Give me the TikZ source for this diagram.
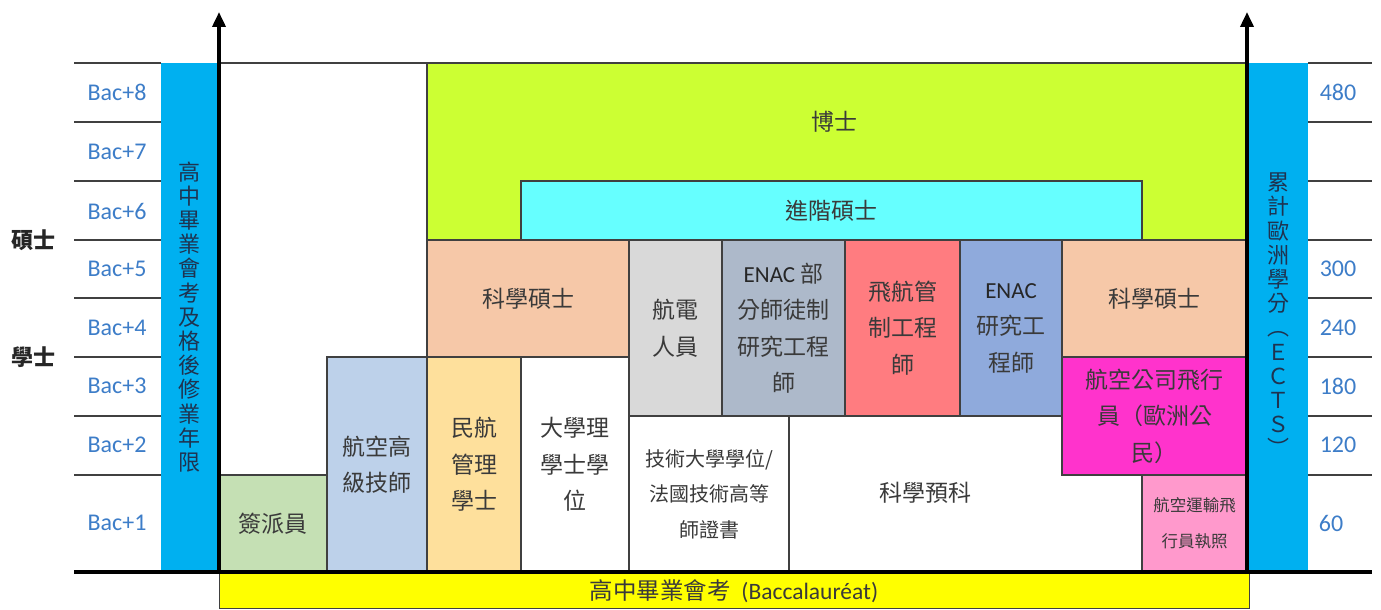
\documentclass[tikz,border=0pt]{standalone}
\usepackage{fontspec}
\setmainfont{Carlito}
\newfontfamily\cjk{Noto Sans CJK TC}
\newfontfamily\latin{Carlito}
\usetikzlibrary{arrows.meta}
\definecolor{edge}{HTML}{404040}
\definecolor{txt}{HTML}{3A3A3A}
\definecolor{bacblue}{HTML}{3D7DC8}
\definecolor{barblue}{HTML}{00B0F0}
\definecolor{bartxt}{HTML}{1F3350}
\definecolor{cPhD}{HTML}{CCFF33}
\definecolor{cCyan}{HTML}{66FFFF}
\definecolor{cSalmon}{HTML}{F6C8A8}
\definecolor{cOrange}{HTML}{FEE09C}
\definecolor{cLightBlue}{HTML}{BDD1EA}
\definecolor{cGreen}{HTML}{C5E0B4}
\definecolor{cGray}{HTML}{D9D9D9}
\definecolor{cGrayBlue}{HTML}{ADB9CA}
\definecolor{cRed}{HTML}{FF7C80}
\definecolor{cBlue}{HTML}{8FAADC}
\definecolor{cMagenta}{HTML}{FF33CC}
\definecolor{cPink}{HTML}{FF99CC}
\definecolor{cYellow}{HTML}{FFFF00}
\newcommand\cell[7][]{\node[cellbox, fill=#6, minimum width={(#4-#2)*1pt}, minimum height={(#5-#3)*1pt},#1] (c#2-#3) at ({(#2+#4)/2},{(#3+#5)/2}) {#7};}
\begin{document}
\begin{tikzpicture}[x=1pt,y=-1pt,
  cellbox/.style={draw=edge, line width=1.1pt, rectangle, inner sep=0pt, outer sep=0pt, text=txt, align=center, font=\cjk\fontsize{23}{36.5}\selectfont},
  grid/.style={draw=edge, line width=1.1pt},
  bac/.style={text=bacblue, font=\latin\fontsize{24}{28}\selectfont},
  vtext/.style={text=bartxt, align=center, font=\cjk\fontsize{22}{24.2}\selectfont},
  axis/.style={line width=3.6pt, -{Triangle[width=13pt,length=15pt]}},
  side/.style={text=black!85, font=\cjk\bfseries\fontsize{22}{26}\selectfont}]
\useasboundingbox (0,0) rectangle (1381,610);
% grid lines
\foreach \y in {63,122,181,240,298,357,416,475}{
  \draw[grid] (74,\y) -- (161,\y);
  \draw[grid] (1308,\y) -- (1372,\y);
}
\draw[grid] (219,63) -- (427,63);
% blue bars
\node[fill=barblue, minimum width=57pt, minimum height=509pt, inner sep=0pt] (barL) at (189.5,317.5) {};
\node[fill=barblue, minimum width=59pt, minimum height=509pt, inner sep=0pt] (barR) at (1278.5,317.5) {};
\node[vtext] (barLt) at (189,317) {高\\中\\畢\\業\\會\\考\\及\\格\\後\\修\\業\\年\\限};
\node[vtext] (barRt) at (1278,315) {累\\計\\歐\\洲\\學\\分\\︵\\Ｅ\\Ｃ\\Ｔ\\Ｓ\\︶};
% boxes
\cell{427}{63}{1247}{240}{cPhD}{}
\node[text=txt, font=\cjk\fontsize{23}{27}\selectfont] (phdT) at (834,122) {博士};
\cell{521}{181}{1142}{240}{cCyan}{進階碩士}
\cell{427}{240}{629}{357}{cSalmon}{科學碩士}
\cell{1062}{240}{1247}{357}{cSalmon}{科學碩士}
\cell{629}{240}{722}{416}{cGray}{航電\\人員}
\cell{722}{240}{845}{416}{cGrayBlue}{{\latin\color{black!85}ENAC} 部\\分師徒制\\研究工程\\師}
\cell{845}{240}{960}{416}{cRed}{飛航管\\制工程\\師}
\cell{960}{240}{1062}{416}{cBlue}{{\latin\color{black!85}ENAC}\\研究工\\程師}
\cell{1062}{357}{1247}{475}{cMagenta}{航空公司飛行\\員（歐洲公\\民）}
\cell[font=\cjk\fontsize{16.5}{36}\selectfont]{1142}{475}{1247}{572}{cPink}{航空運輸飛\\行員執照}
\cell[font=\cjk\fontsize{20}{35.5}\selectfont]{629}{416}{789}{572}{white}{技術大學學位/\\法國技術高等\\師證書}
\cell{521}{357}{629}{572}{white}{大學理\\學士學\\位}
\cell{427}{357}{521}{572}{cOrange}{民航\\管理\\學士}
\cell{327}{357}{427}{572}{cLightBlue}{航空高\\級技師}
\cell{219}{475}{327}{572}{cGreen}{簽派員}
\node[text=txt, font=\cjk\fontsize{23}{27}\selectfont] (prep) at (925,493) {科學預科};
% baccalaureat bar
\node[draw=edge, line width=1pt, fill=cYellow, minimum width=1030pt, minimum height=35pt, inner sep=0pt, font=\fontsize{23.5}{27}\selectfont, text=txt] (bacbar) at (734,591) {{\cjk 高中畢業會考}\ \ (Baccalauréat)};
% base line and axes
\coordinate (baseL) at (74,572);
\coordinate (baseR) at (1372,572);
\draw[line width=4.5pt] (baseL) -- (baseR);
\coordinate (axL0) at (219,574);
\coordinate (axL1) at (219,12);
\coordinate (axR0) at (1247,574);
\coordinate (axR1) at (1247,12);
\draw[axis] (axL0) -- (axL1);
\draw[axis] (axR0) -- (axR1);
% labels left
\node[bac, anchor=east] (b8) at (150,92) {Bac+8};
\node[bac, anchor=east] (b7) at (150,152) {Bac+7};
\node[bac, anchor=east] (b6) at (150,211) {Bac+6};
\node[bac, anchor=east] (b5) at (150,269) {Bac+5};
\node[bac, anchor=east] (b4) at (150,328) {Bac+4};
\node[bac, anchor=east] (b3) at (150,386) {Bac+3};
\node[bac, anchor=east] (b2) at (150,445) {Bac+2};
\node[bac, anchor=east] (b1) at (150,523) {Bac+1};
\node[side] (ms) at (34,240) {碩士};
\node[side] (bs) at (34,357) {學士};
% labels right
\node[bac] (e480) at (1338,92) {480};
\node[bac] (e300) at (1338,269) {300};
\node[bac] (e240) at (1338,328) {240};
\node[bac] (e180) at (1338,386) {180};
\node[bac] (e120) at (1338,445) {120};
\node[bac] (e60) at (1331,523) {60};
\end{tikzpicture}
\end{document}
